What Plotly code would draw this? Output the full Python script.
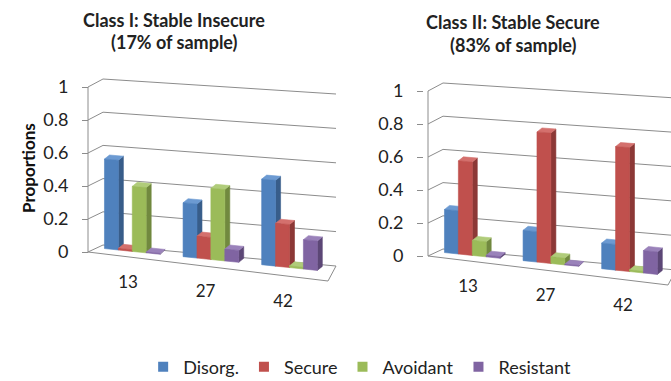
import plotly.graph_objects as go

# ---- data -----------------------------------------------------------------
ages = ["13", "27", "42"]
series_names = ["Disorg.", "Secure", "Avoidant", "Resistant"]
front_colors = ["#4F81BD", "#C0504D", "#9BBB59", "#8064A2"]
side_colors = ["#385D8A", "#8C3836", "#71893F", "#5C4776"]
top_colors = ["#6C9AD2", "#D4706D", "#B0CC7A", "#9A82BA"]

# Class I: Stable Insecure
insecure_disorg = [0.54, 0.32, 0.50]
insecure_secure = [0.01, 0.13, 0.25]
insecure_avoidant = [0.39, 0.42, 0.01]
insecure_resistant = [0.005, 0.07, 0.17]

# Class II: Stable Secure
secure_disorg = [0.26, 0.18, 0.15]
secure_secure = [0.56, 0.77, 0.72]
secure_avoidant = [0.09, 0.04, 0.01]
secure_resistant = [0.01, 0.005, 0.13]

y_ticks = [0, 0.2, 0.4, 0.6, 0.8, 1]
y_tick_labels = ["0", "0.2", "0.4", "0.6", "0.8", "1"]

panel_titles = [("Class I: Stable Insecure", "(17% of sample)"),
                ("Class II: Stable Secure", "(83% of sample)")]

# ---- pseudo-3D geometry (pixels, for one panel) --------------------------
W, H = 671, 381
FONT = "Lato"
TEXT = "#222222"
GRID = "#8C8C8C"

FLOOR = {"fl": (88, 252), "fr": (328, 281), "bl": (103, 245), "br": (336, 266)}
UNIT = {"fl": 165, "fr": 176, "bl": 166, "br": 172}   # px per 1.0 of value
Y0, K0 = 252, 165                                     # front-left wall edge
BAR_D = 0.6            # depth of the bar fronts inside the floor
BAR_BACK = (5, -4)     # offset from bar front to bar back
BAR_W = 0.059          # bar width along the category direction
GROUP_SHIFT = -0.017
LABEL_U = [0.167, 0.49, 0.813]   # age labels along the front edge
LABEL_DROP = 27


def floor_px(u, d):
    w = {"fl": (1 - u) * (1 - d), "fr": u * (1 - d), "bl": (1 - u) * d, "br": u * d}
    x = sum(w[c] * FLOOR[c][0] for c in w)
    y = sum(w[c] * FLOOR[c][1] for c in w)
    k = sum(w[c] * UNIT[c] for c in w)
    return x, y, k


def to_axis(px, py, dx):
    """pixel point of a panel -> (shared x, panel y-axis value)"""
    return px + dx, (Y0 - py) / K0


def point(u, d, v, dx):
    x, y, k = floor_px(u, d)
    return to_axis(x, y - k * v, dx)


panels = [
    dict(dx=0, dy=0, yaxis="y", title_x=174, title_y=(20, 42),
         values=[insecure_disorg, insecure_secure, insecure_avoidant, insecure_resistant]),
    dict(dx=340, dy=4, yaxis="y2", title_x=513, title_y=(22, 45),
         values=[secure_disorg, secure_secure, secure_avoidant, secure_resistant]),
]

fig = go.Figure()
annotations = []

for n, p in enumerate(panels):
    dx, ya = p["dx"], p["yaxis"]

    # walls and floor outline
    xs, ys = [], []

    def seg(pts):
        for q in pts:
            xs.append(q[0]); ys.append(q[1])
        xs.append(None); ys.append(None)

    seg([point(0, 0, 0, dx), point(0, 0, 1, dx)])
    for v in y_ticks:
        seg([point(0, 0, v, dx), point(0, 1, v, dx), point(1, 1, v, dx)])
    seg([point(0, 0, 0, dx), point(1, 0, 0, dx), point(1, 1, 0, dx)])
    fig.add_trace(go.Scatter(x=xs, y=ys, mode="lines", yaxis=ya,
                             line=dict(color=GRID, width=1),
                             hoverinfo="skip", showlegend=False))

    # bars: side, top and front faces of each series
    for j, vals in enumerate(p["values"]):
        side_x, side_y, top_x, top_y, front_x, front_y = [], [], [], [], [], []
        for i, v in enumerate(vals):
            uc = (i + 0.5) / 3 + GROUP_SHIFT
            ul = uc - 2 * BAR_W + j * BAR_W
            ur = ul + BAR_W
            xl, yl, kl = floor_px(ul, BAR_D)
            xr, yr, kr = floor_px(ur, BAR_D)
            tl, tr = yl - kl * v, yr - kr * v
            bx, by = BAR_BACK
            front = [(xl, yl), (xr, yr), (xr, tr), (xl, tl)]
            side = [(xr, yr), (xr + bx, yr + by), (xr + bx, tr + by), (xr, tr)]
            top = [(xl, tl), (xr, tr), (xr + bx, tr + by), (xl + bx, tl + by)]
            for poly, X, Y in ((front, front_x, front_y), (side, side_x, side_y),
                               (top, top_x, top_y)):
                for q in poly + [poly[0]]:
                    a, b = to_axis(q[0], q[1], dx)
                    X.append(a); Y.append(b)
                X.append(None); Y.append(None)
        for X, Y, col in ((side_x, side_y, side_colors[j]),
                          (top_x, top_y, top_colors[j]),
                          (front_x, front_y, front_colors[j])):
            fig.add_trace(go.Scatter(x=X, y=Y, mode="lines", fill="toself",
                                     fillcolor=col, line=dict(width=0.6, color=col),
                                     yaxis=ya, hoverinfo="skip", showlegend=False))

    # age labels under the floor's front edge
    lx, ly = [], []
    for u in LABEL_U:
        x, y, _ = floor_px(u, 0)
        X, Y = to_axis(x, y + LABEL_DROP, dx)
        lx.append(X); ly.append(Y)
    fig.add_trace(go.Scatter(x=lx, y=ly, mode="text", text=ages, yaxis=ya,
                             textfont=dict(family=FONT, size=17, color=TEXT),
                             hoverinfo="skip", showlegend=False))

    # two-line panel title
    for line, ty in zip(panel_titles[n], p["title_y"]):
        annotations.append(dict(text="<b>" + line + "</b>", x=p["title_x"] / W,
                                y=1 - ty / H, xref="paper", yref="paper",
                                xanchor="center", yanchor="middle", showarrow=False,
                                font=dict(family=FONT, size=18, color=TEXT)))

annotations.append(dict(text="<b>Proportions</b>", textangle=-90, x=28 / W,
                        y=1 - 168 / H, xref="paper", yref="paper",
                        xanchor="center", yanchor="middle", showarrow=False,
                        font=dict(family=FONT, size=17, color="#111111")))

# legend entries
for name, col in zip(series_names, front_colors):
    fig.add_trace(go.Scatter(x=[None], y=[None], mode="markers", name=name,
                             marker=dict(symbol="square", size=10, color=col)))


def yaxis_style(dy, xpos):
    return dict(range=[(Y0 + dy - H) / K0, (Y0 + dy) / K0], domain=[0, 1],
                anchor="free", position=xpos, tickmode="array",
                tickvals=y_ticks, ticktext=y_tick_labels, ticks="outside",
                ticklen=6, tickcolor=GRID, showgrid=False, zeroline=False,
                showline=False, ticklabelstandoff=10, automargin=False,
                tickfont=dict(family=FONT, size=18, color=TEXT))


ax2 = yaxis_style(4, (FLOOR["fl"][0] + 335) / W)
ax2["overlaying"] = "y"

fig.update_layout(
    width=W, height=H, margin=dict(l=0, r=0, t=0, b=0, autoexpand=False),
    paper_bgcolor="white", plot_bgcolor="white",
    font=dict(family=FONT, color=TEXT),
    xaxis=dict(range=[0, W], domain=[0, 1], visible=False, fixedrange=True),
    yaxis=yaxis_style(0, FLOOR["fl"][0] / W),
    yaxis2=ax2,
    legend=dict(orientation="h", x=0.536, xanchor="center", y=1 - 367 / H,
                yanchor="middle", font=dict(family=FONT, size=18, color=TEXT),
                bgcolor="rgba(0,0,0,0)"),
    annotations=annotations,
)

fig.write_html("out.html")
